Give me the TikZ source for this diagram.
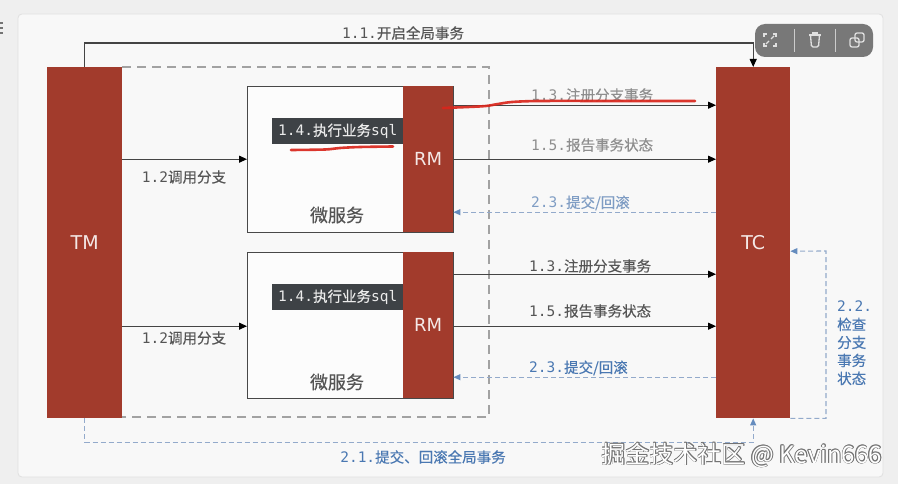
\documentclass[tikz,border=0pt]{standalone}
\usepackage{fontspec}
\setmainfont{Noto Sans CJK SC}[FakeBold=0.4]
\newfontfamily\wmf{Noto Sans CJK SC}
\newfontfamily\monof{DejaVu Sans Mono}
\newfontfamily\sansf{DejaVu Sans}
\usetikzlibrary{arrows.meta}
\definecolor{bgc}{HTML}{EFEFEF}
\definecolor{panelc}{HTML}{F8F8F8}
\definecolor{redc}{HTML}{A23B2C}
\definecolor{txtc}{HTML}{555555}
\definecolor{lightc}{HTML}{8E8E8E}
\definecolor{bluec}{HTML}{4A78B2}
\definecolor{bluelt}{HTML}{7F9DC4}
\definecolor{bluel}{HTML}{93AACB}
\definecolor{darkc}{HTML}{3E4246}
\definecolor{scrib}{HTML}{D9261C}
\definecolor{dashc}{HTML}{A2A2A2}
\newcommand\lbl[2]{{\monof #1}#2}
\begin{document}
\begin{tikzpicture}[x=1pt,y=-1pt,
  redbar/.style={fill=redc, draw=none, text=white!88!redc, font=\sansf\fontsize{19}{20}\selectfont, inner sep=0pt, anchor=north west},
  rmbar/.style={redbar, font=\sansf\fontsize{18}{20}\selectfont, minimum width=50pt, minimum height=146pt},
  msbox/.style={draw=txtc!85!black, line width=1.3pt, fill=white!55!panelc, inner sep=0pt, anchor=north west, minimum width=206pt, minimum height=146pt},
  conn/.style={draw=txtc!80!black, line width=1.1pt, -{Triangle[length=8pt,width=7pt,color=black]}},
  bconn/.style={draw=bluel, dash pattern=on 5pt off 3pt, line width=1.1pt, -{Triangle[length=7pt,width=6pt,color=bluec!85]}},
  lab/.style={font=\fontsize{14.5}{18}\selectfont, text=txtc, inner sep=0pt},
  lablt/.style={lab, text=lightc},
  blab/.style={lab, text=bluec},
  blablt/.style={lab, text=bluelt},
  sqlbox/.style={fill=darkc, text=white!92!black, font=\fontsize{14.5}{16}\selectfont, minimum width=131pt, minimum height=26pt, inner sep=0pt, anchor=north west},
  mslab/.style={font=\fontsize{18}{20}\selectfont, text=txtc, inner sep=0pt},
  scribble/.style={draw=scrib, line width=2.6pt, line cap=round, opacity=0.92},
  wm/.style={font=\wmf\fontsize{24}{26}\selectfont, inner sep=0pt, anchor=east}
]
\useasboundingbox (0,0) rectangle (898,484);
\fill[bgc] (0,0) rectangle (898,484);
\fill[panelc, draw=black!12, line width=0.8pt, rounded corners=4pt] (18,14) rectangle (883,477);
% left edge artifact
\foreach \yy in {22,27,32} \fill[black!55] (0,\yy) rectangle (2.5,\yy+2);

% big dashed box
\draw[dashc, line width=2.4pt, dash pattern=on 9pt off 6pt] (122,67) -- (489,67) -- (489,417) -- (122,417);

% micro services
\node[msbox] (ms1) at (247,86) {};
\node[msbox] (ms2) at (247,252) {};
\node[rmbar] (RM1) at (403,86) {RM};
\node[rmbar] (RM2) at (403,252) {RM};
\node[sqlbox] (sql1) at (272,118) {\lbl{1.4.}{执行业务}{\monof sql}};
\node[sqlbox] (sql2) at (272,284) {\lbl{1.4.}{执行业务}{\monof sql}};
\node[mslab] (w1) at (337,215) {微服务};
\node[mslab] (w2) at (337,382) {微服务};

% TM and TC
\node[redbar, minimum width=75pt, minimum height=351pt] (TM) at (47,67) {TM};
\node[redbar, minimum width=74pt, minimum height=351pt] (TC) at (716,67) {TC};

% 1.1
\draw[conn] (TM.north) -- ++(0,-24) -| (TC.north);
\node[lab] (l11) at (403,33) {\lbl{1.1.}{开启全局事务}};

% 1.2
\draw[conn] (TM.east |- RM1.east) -- (ms1.west |- RM1.east);
\draw[conn] ([yshift=-1pt]TM.east |- RM2.east) -- ([yshift=-1pt]ms1.west |- RM2.east);
\node[lab] (l12a) at (184,177) {\lbl{1.2}{调用分支}};
\node[lab] (l12b) at (184,338) {\lbl{1.2}{调用分支}};

% RM1 <-> TC
\draw[conn] ([yshift=54pt]RM1.east) -- ([yshift=54pt]RM1.east -| TC.west);
\draw[conn] (RM1.east) -- (RM1.east -| TC.west);
\draw[bconn] ([yshift=-53pt]RM1.east -| TC.west) -- ([yshift=-53pt]RM1.east);
\node[lablt, anchor=west] (l13a) at (531,95) {\lbl{1.3.}{注册分支事务}};
\node[lablt, anchor=west] (l15a) at (531,145) {\lbl{1.5.}{报告事务状态}};
\node[blablt, anchor=west] (l23a) at (531,203) {\lbl{2.3.}{提交/回滚}};

% RM2 <-> TC
\draw[conn] ([yshift=51pt]RM2.east) -- ([yshift=51pt]RM2.east -| TC.west);
\draw[conn] ([yshift=-1pt]RM2.east) -- ([yshift=-1pt]RM2.east -| TC.west);
\draw[bconn] ([yshift=-52pt]RM2.east -| TC.west) -- ([yshift=-52pt]RM2.east);
\node[lab, anchor=west] (l13b) at (529,266) {\lbl{1.3.}{注册分支事务}};
\node[lab, anchor=west] (l15b) at (529,311) {\lbl{1.5.}{报告事务状态}};
\node[blab, anchor=west] (l23b) at (529,368) {\lbl{2.3.}{提交/回滚}};

% 2.2
\coordinate (c22) at (826,251);
\draw[bconn] (TC.south east) -| (c22) -- ([yshift=-8.5pt]TC.east);
\node[blab, anchor=north west, align=left] (l22) at (837,301) {{\monof 2.2.}\\检查\\分支\\事务\\状态};

% 2.1
\draw[bconn] (TM.south) -- ++(0,24) -| (TC.south);
\node[blab] (l21) at (423,457) {\lbl{2.1.}{提交、回滚全局事务}};

% red scribbles
\draw[scribble] plot[smooth] coordinates {(443,108) (468,107) (486,106) (498,104) (512,102) (540,101) (620,101) (695,101)};
\draw[scribble] plot[smooth] coordinates {(291,150) (325,149.5) (340,148) (360,147) (393,146.5)};

% toolbar
\fill[black!58, opacity=0.9, rounded corners=10pt] (755,24) rectangle (873,57);
\draw[white!80!black, line width=0.6pt] (794,29) -- (794,52);
\draw[white!80!black, line width=0.6pt] (835,29) -- (835,52);
\begin{scope}[draw=white!88!black, line width=1.3pt]
  \draw (764,37) -- (764,34) -- (767,34);
  \draw (773,34) -- (776,34) -- (776,37);
  \draw (776,43) -- (776,46) -- (773,46);
  \draw (767,46) -- (764,46) -- (764,43);
  \draw (766,44) -- (769,41);
  \draw (774,36) -- (771,39);
  \draw (809,35) -- (821,35);
  \draw (813,35) -- (813,33) -- (817,33) -- (817,35);
  \draw[rounded corners=1.5pt] (810.5,35) -- (811.5,47) -- (818.5,47) -- (819.5,35);
  \draw[rounded corners=2pt] (855,33) rectangle (864,42);
  \draw[rounded corners=2pt] (850,38) rectangle (859,47);
\end{scope}

% watermark
\foreach \dx/\dy in {0.8/0,-0.8/0,0/0.8,0/-0.8,0.6/0.6,-0.6/0.6,0.6/-0.6,-0.6/-0.6}
  \node[wm, text=black!55] at (882+\dx,455+\dy) {掘金技术社区 @ Kevin666};
\node[wm, text=white] (wmk) at (882,455) {掘金技术社区 @ Kevin666};
\end{tikzpicture}
\end{document}
